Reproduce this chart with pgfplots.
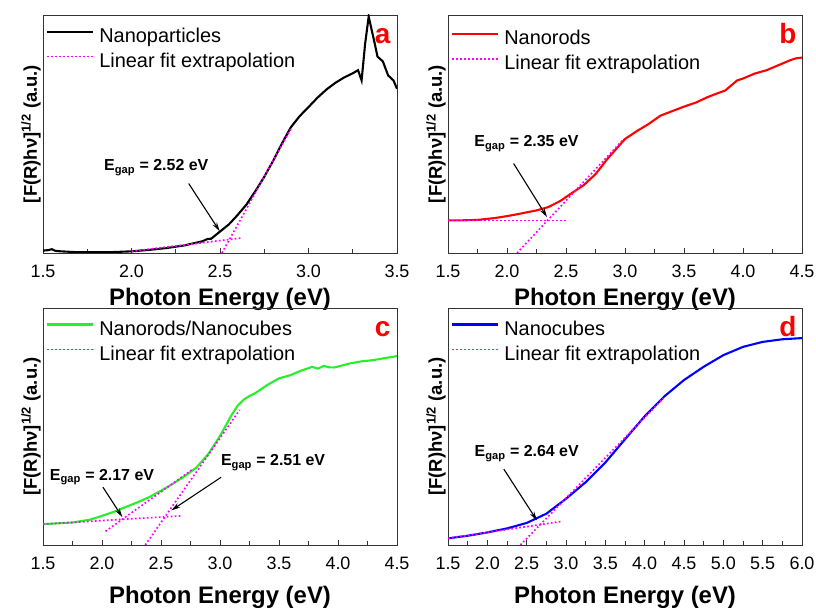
\documentclass[border=0pt]{standalone}
\usepackage{fontspec}
\setmainfont{Liberation Sans}
\usepackage{pgfplots}
\pgfplotsset{compat=1.18}
\usetikzlibrary{arrows.meta}
\definecolor{fitmag}{RGB}{255,0,255}
\definecolor{cgreen}{RGB}{40,240,40}
\tikzset{
  egap/.style={font=\fontsize{16}{16}\selectfont\bfseries, anchor=base},
  arr/.style={-{Stealth[length=9bp,width=5bp]}, line width=1.1bp, black},
  letter/.style={text=red, anchor=base east, font=\fontsize{28}{28}\selectfont\bfseries},
  datal/.style={line width=2.1bp},
  fitl/.style={fitmag, line width=1.7bp, dash pattern=on 1.7bp off 2.3bp},
}
\pgfplotsset{
  panel/.style={
    scale only axis, width=354bp, height=238bp,
    anchor=south west,
    ymin=0, ymax=100, ytick=\empty,
    xtick distance=0.5, minor x tick num=1,
    tick align=inside, xtick pos=bottom,
    major tick length=5bp, minor tick length=4bp,
    axis line style={black!80, line width=0.9bp},
    every tick/.style={black!80, line width=0.8bp},
    every minor tick/.style={black!80, line width=0.8bp},
    xticklabel style={font=\fontsize{18}{18}\selectfont, anchor=base, yshift=-24.5bp},
    /pgf/number format/.cd, fixed, fixed zerofill, precision=1, assume math mode=true,
    /pgfplots/.cd,
    xlabel={Photon Energy (eV)},
    xlabel style={font=\fontsize{24}{24}\selectfont\bfseries, anchor=base},
    ylabel={[F(R)h\char"03BD]\textsuperscript{1/2} (a.u.)},
    ylabel style={font=\fontsize{18.5}{18.5}\selectfont\bfseries, at={(axis description cs:-0.017,0.5)}, anchor=base},
    legend cell align=left,
    legend image code/.code={\draw[##1] (0bp,5.5bp) -- (46bp,5.5bp);},
    legend style={draw=none, fill=none, inner sep=0pt, anchor=north west,
      font=\fontsize{20}{20}\selectfont, row sep=5bp, column sep=5bp,
      nodes={inner sep=0pt, text height=15bp, text depth=5bp}},
  },
}
\newcommand{\Eg}[1]{E\textsubscript{gap} = #1 eV}
\begin{document}
\begin{tikzpicture}
% ---------------- panel a
\begin{axis}[panel, at={(43bp,355bp)}, xmin=1.5, xmax=3.5,
  xlabel style={at={(axis description cs:0.5,-0.221)}},
  legend style={at={(axis description cs:0.0085,0.95)}}]
\addplot[datal, black] coordinates {(1.50,1.0)(1.53,1.2)(1.55,1.6)(1.57,0.9)(1.60,0.7)(1.70,0.3)(1.80,0.3)(1.90,0.4)(2.00,0.7)(2.10,1.3)(2.20,2.1)(2.30,3.2)(2.40,4.9)(2.43,5.9)(2.45,6.0)(2.50,9.0)(2.55,12.0)(2.60,16.0)(2.65,20.4)(2.70,26.0)(2.75,32.0)(2.80,38.7)(2.85,46.0)(2.90,52.8)(2.95,57.5)(3.00,61.3)(3.05,65.2)(3.10,68.6)(3.15,71.4)(3.20,73.7)(3.25,75.5)(3.28,76.8)(3.30,72.5)(3.32,88.0)(3.34,99.3)(3.37,89.4)(3.39,82.5)(3.42,80.5)(3.45,74.6)(3.48,72.5)(3.50,69.0)};
\addlegendentry{Nanoparticles}
\addplot[fitl] coordinates {(2.00,0.7)(2.62,6.3)};
\addlegendentry{Linear fit extrapolation}
\addplot[fitl, forget plot] coordinates {(2.511,0)(2.90,52.1)};
\node[egap] at (axis cs:2.14,34.6) {\Eg{2.52}};
\draw[arr] (axis cs:2.323,29.2) -- (axis cs:2.498,9.2);
\node[letter] at (axis description cs:0.991,0.880) {a};
\end{axis}
% ---------------- panel b
\begin{axis}[panel, at={(448bp,355bp)}, xmin=1.5, xmax=4.5,
  xlabel style={at={(axis description cs:0.5,-0.221)}},
  legend style={at={(axis description cs:0.0085,0.94)}}]
\addplot[datal, red] coordinates {(1.50,13.7)(1.60,13.7)(1.75,13.9)(1.90,14.7)(2.00,15.5)(2.10,16.4)(2.25,17.9)(2.35,19.3)(2.45,21.8)(2.55,25.2)(2.65,28.5)(2.75,33.1)(2.85,39.5)(2.90,42.3)(3.00,47.9)(3.10,51.2)(3.20,54.2)(3.30,57.7)(3.40,59.6)(3.50,61.5)(3.60,63.2)(3.70,65.5)(3.80,67.4)(3.85,68.3)(3.90,70.4)(3.95,72.5)(4.00,73.3)(4.10,75.4)(4.20,76.8)(4.30,78.9)(4.40,81.0)(4.45,81.8)(4.50,82.1)};
\addlegendentry{Nanorods}
\addplot[fitl] coordinates {(1.50,13.7)(2.50,13.7)};
\addlegendentry{Linear fit extrapolation}
\addplot[fitl, forget plot] coordinates {(2.085,0)(2.99,47.9)};
\node[egap] at (axis cs:2.165,44.7) {\Eg{2.35}};
\draw[arr] (axis cs:2.056,37.6) -- (axis cs:2.339,15.1);
\node[letter] at (axis description cs:0.994,0.881) {b};
\end{axis}
% ---------------- panel c
\begin{axis}[panel, at={(43bp,63bp)}, height=237bp, xmin=1.5, xmax=4.5,
  xlabel style={at={(axis description cs:0.5,-0.245)}},
  legend style={at={(axis description cs:0.0085,0.95)}}]
\addplot[datal, cgreen] coordinates {(1.50,8.8)(1.75,9.5)(1.90,10.7)(2.00,12.3)(2.10,14.0)(2.20,16.0)(2.30,18.0)(2.40,20.2)(2.50,22.9)(2.60,25.8)(2.70,29.0)(2.80,32.7)(2.90,38.3)(3.00,46.0)(3.05,50.5)(3.10,55.0)(3.15,58.8)(3.20,61.3)(3.25,62.9)(3.30,64.1)(3.40,67.5)(3.50,70.3)(3.60,71.7)(3.65,72.8)(3.70,73.8)(3.75,74.6)(3.78,75.2)(3.83,74.4)(3.88,75.6)(3.92,75.0)(3.97,74.9)(4.10,76.6)(4.20,77.5)(4.30,78.0)(4.40,78.9)(4.50,79.7)};
\addlegendentry{Nanorods/Nanocubes}
\addplot[fitl] coordinates {(1.50,8.8)(2.67,12.3)};
\addlegendentry{Linear fit extrapolation}
\addplot[fitl, forget plot] coordinates {(2.03,5.8)(2.77,32.0)};
\addplot[fitl, forget plot] coordinates {(2.367,0)(3.167,57.0)};
\node[egap] at (axis cs:2.0,27.4) {\Eg{2.17}};
\node[egap] at (axis cs:3.45,33.5) {\Eg{2.51}};
\draw[arr] (axis cs:2.008,24.4) -- (axis cs:2.172,11.8);
\draw[arr] (axis cs:3.01,28.6) -- (axis cs:2.588,14.6);
\node[letter] at (axis description cs:0.991,0.878) {c};
\end{axis}
% ---------------- panel d
\begin{axis}[panel, at={(448bp,63bp)}, height=237bp, xmin=1.5, xmax=6.0,
  xlabel style={at={(axis description cs:0.5,-0.245)}},
  legend style={at={(axis description cs:0.0085,0.95)}}]
\addplot[datal, blue] coordinates {(1.50,2.8)(1.75,3.9)(2.00,5.3)(2.25,7.0)(2.50,9.3)(2.75,13.2)(3.00,19.5)(3.25,26.5)(3.50,34.8)(3.75,44.6)(4.00,54.3)(4.25,62.7)(4.50,69.6)(4.75,75.2)(5.00,80.1)(5.25,83.6)(5.50,85.7)(5.75,86.8)(6.00,87.3)};
\addlegendentry{Nanocubes}
\addplot[fitl] coordinates {(1.50,2.8)(2.95,10.0)};
\addlegendentry{Linear fit extrapolation}
\addplot[fitl, forget plot] coordinates {(2.42,0)(4.24,62.0)};
\node[egap] at (axis cs:2.50,37.3) {\Eg{2.64}};
\draw[arr] (axis cs:2.21,32.0) -- (axis cs:2.63,10.4);
\node[letter] at (axis description cs:0.994,0.878) {d};
\end{axis}
\pgfresetboundingbox
\path[use as bounding box] (0,0) rectangle (816bp,608bp);
\end{tikzpicture}
\end{document}
